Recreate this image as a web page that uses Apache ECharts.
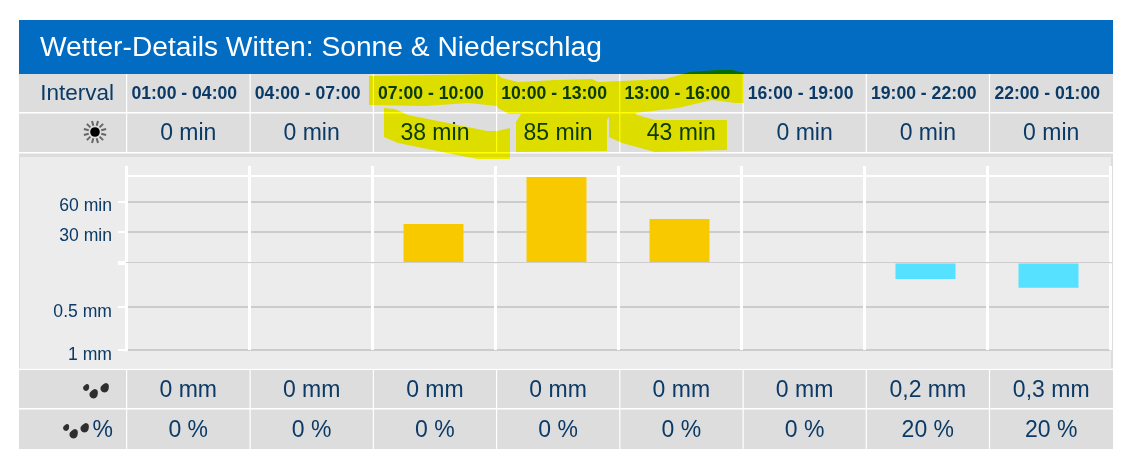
<!DOCTYPE html>
<html><head><meta charset="utf-8">
<style>html,body{margin:0;padding:0;background:#fff}#c{width:1122px;height:462px}</style>
<script src="https://cdn.jsdelivr.net/npm/echarts@6/dist/echarts.min.js"></script>
</head><body><div id="c"></div>
<script>
const title = 'Wetter-Details Witten: Sonne & Niederschlag';
const rowLabel = 'Interval';
const intervals = ['01:00 - 04:00','04:00 - 07:00','07:00 - 10:00','10:00 - 13:00','13:00 - 16:00','16:00 - 19:00','19:00 - 22:00','22:00 - 01:00'];
const sunMinutes = [0,0,38,85,43,0,0,0];
const rainBars = [0,0,0,0,0,0,0.18,0.28];
const rainText = ['0 mm','0 mm','0 mm','0 mm','0 mm','0 mm','0,2 mm','0,3 mm'];
const rainChance = [0,0,0,0,0,0,20,20];
const sunTicks = {60:'60 min',30:'30 min'};
const rainTicks = {0.5:'0.5 mm',1:'1 mm'};

const FONT = '"Liberation Sans", Arial, sans-serif';
const INK = '#0b3a66';
const colEdges = [126.5,250,373.3,496.5,619.7,743,866.2,989.4,1113];
const highlightA = [[369,76],[497,74],[502,78],[518,82],[555,80],[592,79],[598,82],[665,79],[690,72],[718,70],[732,70],[744,73],[744,103],[735,103],[712,100],[678,108],[635,113],[637,115],[655,120],[727,120],[727,150],[655,152],[622,143],[609,137],[609,117],[607,120],[607,151],[516,152],[516,122],[521,114],[509,114],[498,108],[497,106],[468,103],[425,106],[369,105]];
const highlightB = [[384,108],[395,109],[408,115],[448,123],[487,131],[497,131],[510,128],[510,159],[477,159],[442,152],[398,143],[384,137]];

function rect(x,y,w,h,fill,z){return {type:'rect',silent:true,z:z,shape:{x,y,width:w,height:h},style:{fill}};}
function text(x,y,s,size,opts){opts=opts||{};return {type:'text',silent:true,z:5,x,y,style:{text:s,fill:opts.fill||INK,font:(opts.bold?'bold ':'')+size+'px '+FONT,textAlign:opts.align||'center',textVerticalAlign:'middle',textBaseline:'middle'}};}
function dropPoints(cx,cy,r){
  const pts=[];
  const tipA=-Math.PI/3; // points up and to the right
  for(let k=0;k<24;k++){
    const t=k/24*2*Math.PI;
    const d=r*(1+0.45*Math.pow(Math.max(0,Math.cos(t)),4));
    pts.push([cx+d*Math.cos(t+tipA),cy+d*Math.sin(t+tipA)]);
  }
  return pts;
}
function drops(dx,dy){
  return [[86,388,2.9],[93.5,394.5,4],[104.5,388.5,4]].map(d=>({type:'polygon',silent:true,z:5,shape:{points:dropPoints(d[0]+dx,d[1]+dy,d[2])},style:{fill:'#2e2e2e'}}));
}
function sun(cx,cy){
  const els=[{type:'circle',silent:true,z:5,shape:{cx,cy,r:4.8},style:{fill:'#000'}}];
  for(let i=0;i<12;i++){const a=i*Math.PI/6+Math.PI/12;
    els.push({type:'line',silent:true,z:5,shape:{x1:cx+6.5*Math.cos(a),y1:cy+6.5*Math.sin(a),x2:cx+11.5*Math.cos(a),y2:cy+11.5*Math.sin(a)},style:{stroke:'#666',lineWidth:2}});}
  return els;
}
const g=[];
g.push(rect(19,20,1094,54,'#016cc1',-2));
g.push(rect(19,74,1094,375,'#dddddd',-2));
g.push(rect(20,157,1091,211,'#ececec',-1));
g.push(rect(19,368.5,1094,1.5,'#ffffff',-1));
[[112,1.5],[152,1.5],[408,1.5]].forEach(l=>g.push(rect(19,l[0],1094,l[1],'#ffffff',-1)));
colEdges.slice(0,8).forEach(x=>{
  g.push(rect(x-0.5,74,1.2,78.5,'#ffffff',-1));
  g.push(rect(x-0.5,369,1.2,80,'#ffffff',-1));
});
g.push(text(40,48,title,28.2,{fill:'#ffffff',align:'left'}));
g.push(text(114,93.5,rowLabel,22.5,{align:'right'}));
g.push(text(113,431,'%',23,{align:'right'}));
intervals.forEach((s,i)=>{
  const cx=(colEdges[i]+colEdges[i+1])/2;
  g.push(text(cx-4,94,s,17.6,{bold:true}));
  g.push(text(cx,134,sunMinutes[i]+' min',23));
  g.push(text(cx,390.5,rainText[i],23));
  g.push(text(cx,431,rainChance[i]+' %',23));
});
g.push(...sun(95,132));
g.push(...drops(0,0));
g.push(...drops(-20,40));
[highlightA,highlightB].forEach(points=>g.push({type:'polygon',silent:true,z:20,shape:{points},style:{fill:'#ffff00',blend:'multiply'}}));

const vLine={show:true,lineStyle:{color:'#ffffff',width:3}};
const tickText=(pad)=>({margin:14,rich:{a:{fontSize:17.6,color:INK,fontFamily:FONT,padding:[pad,0,0,0]}}});
const chart=echarts.init(document.getElementById('c'),null,{renderer:'canvas'});
chart.setOption({
  animation:false,
  backgroundColor:'#ffffff',
  textStyle:{fontFamily:FONT},
  grid:[
    {left:126,right:12,top:176,height:86,containLabel:false},
    {left:126,right:12,top:263.5,height:86.5,containLabel:false}
  ],
  xAxis:[
    {gridIndex:0,type:'category',position:'top',data:intervals,
     axisLine:{show:true,onZero:false,lineStyle:{color:'#ffffff',width:2}},
     axisTick:{show:true,length:10,lineStyle:{color:'#ffffff',width:3}},
     axisLabel:{show:false},splitLine:vLine},
    {gridIndex:1,type:'category',position:'top',offset:1.5,data:intervals,
     axisLine:{show:true,onZero:false,lineStyle:{color:'#cccccc',width:1}},axisTick:{show:false},axisLabel:{show:false},splitLine:vLine}
  ],
  yAxis:[
    {gridIndex:0,type:'value',min:0,max:86,interval:30,
     axisLine:{show:true,lineStyle:{color:'#ffffff',width:3}},
     axisTick:{show:true,length:8,customValues:[0,30,60],lineStyle:{color:'#ffffff',width:2}},
     axisLabel:Object.assign(tickText(9),{formatter:v=>sunTicks[v]?'{a|'+sunTicks[v]+'}':''}),
     splitLine:{show:true,showMinLine:false,lineStyle:{color:'#cccccc',width:2}}},
    {gridIndex:1,type:'value',inverse:true,min:0,max:1,interval:0.5,
     axisLine:{show:true,lineStyle:{color:'#ffffff',width:3}},
     axisTick:{show:true,length:8,lineStyle:{color:'#ffffff',width:2}},
     axisLabel:Object.assign(tickText(11),{formatter:v=>rainTicks[v]?'{a|'+rainTicks[v]+'}':''}),
     splitLine:{show:true,showMinLine:false,lineStyle:{color:'#cccccc',width:2}}}
  ],
  series:[
    {type:'bar',xAxisIndex:0,yAxisIndex:0,data:sunMinutes,barWidth:60,itemStyle:{color:'#f9c900'},silent:true},
    {type:'bar',xAxisIndex:1,yAxisIndex:1,data:rainBars,barWidth:60,itemStyle:{color:'#55e1ff'},silent:true}
  ],
  graphic:{elements:g}
});
</script></body></html>
